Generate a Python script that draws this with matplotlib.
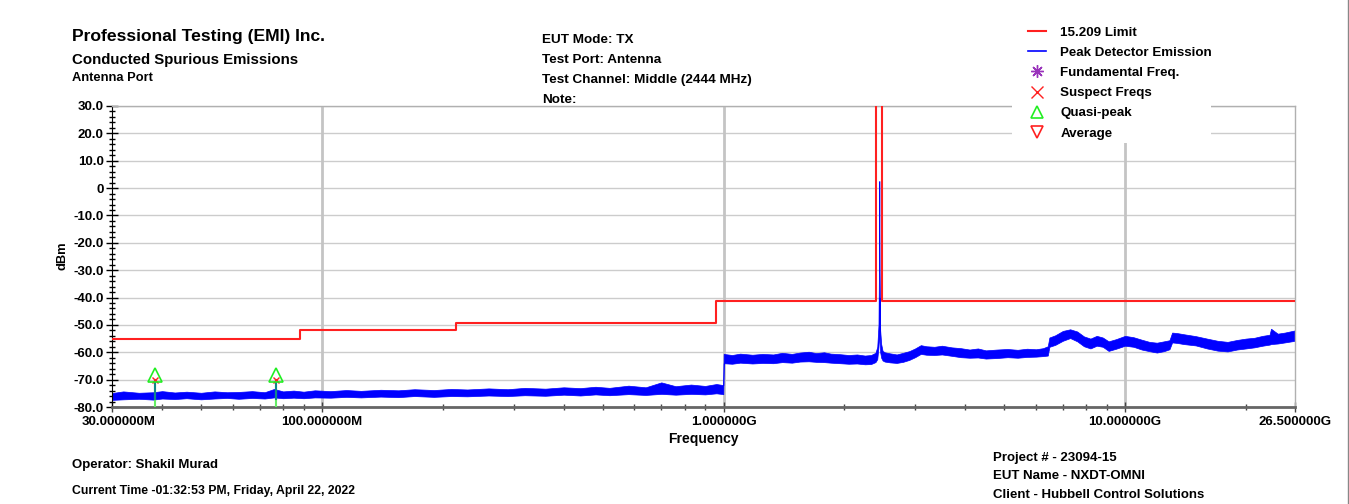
import matplotlib
matplotlib.use("Agg")
import matplotlib.pyplot as plt
import matplotlib.transforms as mtransforms
from matplotlib.lines import Line2D
from matplotlib.patches import Rectangle
from matplotlib.ticker import FixedLocator, MultipleLocator, LogLocator, NullFormatter

plt.rcParams['font.family'] = ['Liberation Sans', 'DejaVu Sans']
plt.rcParams['font.weight'] = 'bold'

W, H = 1349, 504

# FCC 15.209 limit (dBm) - step edges in MHz, band 2400-2483.5 is open
limit_edges = [30, 88, 216, 960, 2400, 2483.5, 26500]
limit_levels = [-55.2, -51.7, -49.2, -41.2, 60.0, -41.2]

# peak detector sweep, MHz with upper/lower trace envelope in dBm
freq = [30, 32, 35, 38, 40, 43, 46, 50, 54, 58, 62, 67, 72, 76, 80, 85, 90, 96, 105, 115,
        125, 140, 155, 170, 190, 210, 230, 260, 290, 320, 360, 400, 440, 480, 520, 580, 640,
        700, 760, 830, 900, 960, 999,
        1001, 1050, 1100, 1180, 1250, 1330, 1400, 1480, 1550, 1630, 1700, 1780, 1850, 1950,
        2050, 2150, 2250, 2330, 2390,
        2415, 2432, 2440, 2443, 2444, 2445, 2448, 2456, 2470, 2490,
        2520, 2600, 2700, 2800, 2900, 3000, 3100, 3200, 3350, 3500, 3700, 3900, 4100, 4300,
        4500, 4800, 5100, 5400, 5700, 6000, 6250, 6420,
        6480, 6700, 7000, 7300, 7600, 7900, 8200, 8500, 8800, 9100, 9500, 10000, 10500,
        11000, 11500, 12000, 12500, 12900, 13100, 13500, 14000, 15000, 16000, 17000, 18000,
        19000, 20000, 21000, 22000, 22900, 23100, 24000, 25000, 26500]
trace_hi = [-74.9, -74.3, -74.8, -74.6, -74.2, -74.7, -74.4, -74.8, -74.3, -74.6, -74.5, -74.2,
            -74.6, -73.4, -74.3, -74.0, -74.4, -73.9, -74.2, -73.8, -74.1, -73.7, -73.9, -73.5,
            -73.8, -73.4, -73.6, -73.2, -73.5, -73.0, -73.3, -72.8, -73.1, -72.6, -73.0, -72.2,
            -72.8, -71.0, -72.4, -71.8, -72.3, -71.6, -72.0,
            -60.6, -61.0, -60.5, -60.9, -60.6, -60.8, -60.2, -60.6, -60.1, -59.8, -60.3, -60.0,
            -60.5, -60.7, -61.0, -60.8, -61.2, -61.0, -60.2,
            -58.0, -50.0, -25.0, -5.0, 2.6, -5.0, -30.0, -52.0, -57.0, -59.5,
            -60.0, -60.4, -60.8, -60.2, -59.6, -58.6, -57.4, -57.8, -58.0, -57.6, -58.2, -58.5,
            -59.0, -58.6, -59.3, -59.0, -58.8, -59.1, -58.7, -58.9, -58.5, -57.8,
            -54.6, -53.8, -52.2, -51.6, -52.4, -54.2, -55.0, -54.0, -54.6, -56.0, -55.2, -54.0,
            -54.5, -55.4, -56.2, -56.5, -56.0, -55.6, -52.8, -53.0, -53.4, -54.1, -55.0, -55.8,
            -56.2, -55.5, -55.0, -54.7, -54.0, -53.6, -51.4, -53.2, -52.8, -52.0]
trace_lo = [-77.4, -77.2, -77.0, -77.3, -76.9, -77.1, -76.8, -77.2, -76.9, -76.7, -77.0, -76.7,
            -76.9, -76.5, -76.8, -76.6, -76.8, -76.5, -76.6, -76.3, -76.5, -76.2, -76.4, -76.0,
            -76.3, -76.0, -76.1, -75.8, -76.0, -75.7, -75.9, -75.5, -75.8, -75.4, -75.7, -75.3,
            -75.6, -75.2, -75.5, -75.2, -75.4, -75.0, -75.3,
            -64.0, -64.2, -63.8, -64.1, -63.9, -64.0, -63.6, -63.8, -63.4, -63.3, -63.5, -63.6,
            -63.8, -64.0, -64.2, -64.1, -64.4, -64.3, -63.6,
            -62.5, -58.0, -55.0, -45.0, -40.0, -45.0, -55.0, -60.0, -62.0, -63.0,
            -63.4, -63.7, -63.9, -63.5, -62.8, -61.8, -60.6, -60.9, -61.0, -60.8, -61.3, -61.8,
            -62.0, -61.9, -62.3, -62.1, -61.8, -62.0, -61.7, -61.6, -61.4, -61.2,
            -58.0, -57.3, -55.8, -54.8, -56.0, -57.8, -58.6, -57.6, -58.0, -59.5, -58.7, -57.6,
            -58.0, -59.0, -59.6, -60.1, -59.6, -58.9, -56.4, -56.6, -57.0, -57.5, -58.6, -59.4,
            -59.7, -59.0, -58.6, -58.2, -57.6, -57.2, -57.0, -56.8, -56.4, -55.8]

# measured suspects (MHz) with quasi-peak results (dBm)
suspect_freq = [38.4, 76.7]
suspect_level = [-70.3, -70.3]
qp_level = [-68.2, -68.2]

x_ticks = [30, 100, 1000, 10000, 26500]
x_labels = ['30.000000M', '100.000000M', '1.000000G', '10.000000G', '26.500000G']
y_ticks = [30, 20, 10, 0, -10, -20, -30, -40, -50, -60, -70, -80]
y_labels = ['30.0', '20.0', '10.0', '0', '-10.0', '-20.0', '-30.0', '-40.0', '-50.0',
            '-60.0', '-70.0', '-80.0']

RED = '#ff2020'
BLUE = '#0000ff'
GREEN = '#22ee22'
PURPLE = '#9933bb'


def fx(x):
    return x / W


def fy(y):
    return 1 - y / H


fig = plt.figure(figsize=(W / 100, H / 100), dpi=100)
ax = fig.add_axes([fx(112), fy(407), (1295 - 112) / W, (407 - 106) / H])

ax.set_xscale('log')
ax.set_xlim(30, 26500)
ax.set_ylim(-80, 30)

# grid
for yv in y_ticks:
    ax.axhline(yv, color='#cccccc', lw=1, zorder=0)
for xv in [100, 1000, 10000]:
    ax.axvline(xv, color='#c4c4c4', lw=2, zorder=0)

# trace
ax.fill_between(freq, trace_lo, trace_hi, color=BLUE, lw=0.5, edgecolor=BLUE, zorder=2)

# limit
ax.step(limit_edges, limit_levels + [limit_levels[-1]], where='post', color=RED, lw=1.5,
        zorder=3)

# suspect markers
for f, s, q in zip(suspect_freq, suspect_level, qp_level):
    ax.plot([f, f], [-80, s], color='#66ee66', lw=1.5, zorder=4)
    ax.plot([f, f], [-77, s], color='#118888', lw=1.5, zorder=4)
    ax.plot(f, s, marker='x', color=RED, ms=5, mew=1, zorder=5)
    ax.plot(f, q, marker='^', mfc='none', mec=GREEN, ms=10, mew=1.2, zorder=5)

# axes styling
for side in ['top', 'right']:
    ax.spines[side].set_color('#b0b0b0')
    ax.spines[side].set_linewidth(1)
ax.spines['left'].set_color('black')
ax.spines['bottom'].set_color('#666666')
ax.spines['bottom'].set_linewidth(2)

ax.yaxis.set_major_locator(FixedLocator(y_ticks))
ax.set_yticklabels(y_labels)
ax.yaxis.set_minor_locator(MultipleLocator(2))
ax.xaxis.set_major_locator(FixedLocator(x_ticks))
ax.set_xticklabels(x_labels)
ax.xaxis.set_minor_locator(LogLocator(base=10, subs=range(2, 10)))
ax.xaxis.set_minor_formatter(NullFormatter())

ax.tick_params(axis='y', which='major', direction='inout', length=8, width=1,
               labelsize=9.5, pad=2)
ax.tick_params(axis='y', which='minor', direction='inout', length=5, width=1)
ax.tick_params(axis='x', which='major', direction='inout', length=7, width=1,
               color='#444444', labelsize=9.5, pad=3)
ax.tick_params(axis='x', which='minor', direction='inout', length=5, width=1,
               color='#444444')
for lbl in ax.get_xticklabels() + ax.get_yticklabels():
    lbl.set_fontweight('bold')
# first frequency label sits a little right of the axis corner
first = ax.get_xticklabels()[0]
first.set_transform(first.get_transform() +
                    mtransforms.ScaledTranslation(7 / 100, 0, fig.dpi_scale_trans))

# header text
fig.text(fx(72), fy(36), 'Professional Testing (EMI) Inc.', fontsize=12.6, weight='bold',
         va='center')
fig.text(fx(72), fy(60), 'Conducted Spurious Emissions', fontsize=10.8, weight='bold',
         va='center')
fig.text(fx(72), fy(78), 'Antenna Port', fontsize=9.3, weight='bold', va='center')

for i, s in enumerate(['EUT Mode: TX', 'Test Port: Antenna',
                       'Test Channel: Middle (2444 MHz)', 'Note:']):
    fig.text(fx(542), fy(40 + 20 * i), s, fontsize=9.7, weight='bold', va='center')

fig.text(fx(63), fy(256), 'dBm', fontsize=9.3, weight='bold', rotation=90,
         ha='center', va='center')
fig.text(fx(703), fy(439), 'Frequency', fontsize=10, weight='bold', ha='center',
         va='center')

fig.text(fx(72), fy(465), 'Operator: Shakil Murad', fontsize=9.5, weight='bold',
         va='center')
fig.text(fx(72), fy(491), 'Current Time -01:32:53 PM, Friday, April 22, 2022',
         fontsize=8.8, weight='bold', va='center')
fig.text(fx(993), fy(458), 'Project # - 23094-15', fontsize=9.5, weight='bold',
         va='center')
fig.text(fx(993), fy(476), 'EUT Name - NXDT-OMNI', fontsize=9.5, weight='bold',
         va='center')
fig.text(fx(993), fy(495), 'Client - Hubbell Control Solutions', fontsize=9.5,
         weight='bold', va='center')

# legend on a white panel over the top of the plot
fig.add_artist(Rectangle((fx(1012), fy(143)), (1211 - 1012) / W, (143 - 16) / H,
                         transform=fig.transFigure, facecolor='white', edgecolor='none',
                         zorder=9))
handles = [
    Line2D([], [], color=RED, lw=1.5),
    Line2D([], [], color=BLUE, lw=1.2),
    Line2D([], [], ls='none', marker=(8, 2, 0), color=PURPLE, ms=9, mew=1),
    Line2D([], [], ls='none', marker='x', color=RED, ms=8, mew=1),
    Line2D([], [], ls='none', marker='^', mfc='none', mec=GREEN, ms=9, mew=1.2),
    Line2D([], [], ls='none', marker='v', mfc='none', mec=RED, ms=9, mew=1.2),
]
labels = ['15.209 Limit', 'Peak Detector Emission', 'Fundamental Freq.', 'Suspect Freqs',
          'Quasi-peak', 'Average']
leg = fig.legend(handles, labels, loc='upper left', bbox_to_anchor=(fx(1023), fy(21)),
                 bbox_transform=fig.transFigure, borderaxespad=0, frameon=False,
                 prop={'size': 9.6, 'weight': 'bold'}, handlelength=1.3,
                 handletextpad=1.1, labelspacing=0.59, borderpad=0.4)
leg.set_zorder(10)

# page border
fig.add_artist(Line2D([fx(1348), fx(1348)], [0, 1], color='#888888', lw=1))

fig.savefig('out.png', dpi=100)
